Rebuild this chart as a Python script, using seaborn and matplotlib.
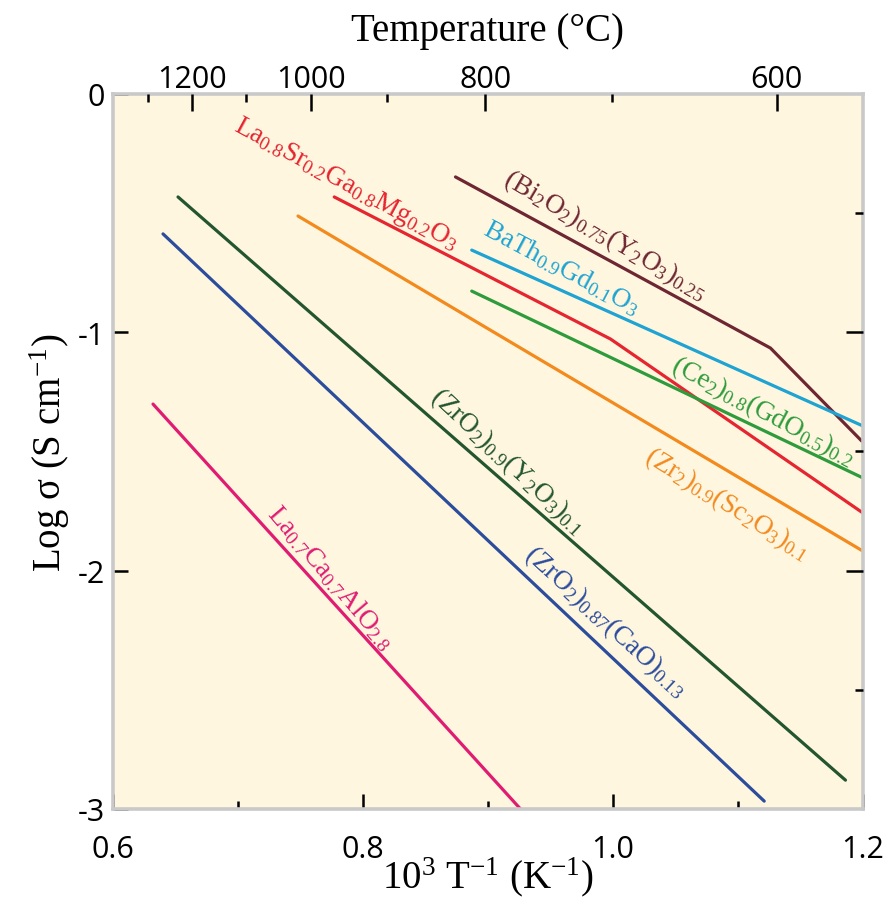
import numpy as np
import pandas as pd
import seaborn as sns
import matplotlib.pyplot as plt

sns.set_theme(style="ticks")
plt.rcParams['font.family'] = ['Liberation Serif', 'DejaVu Serif']
plt.rcParams['mathtext.fontset'] = 'custom'
plt.rcParams['mathtext.rm'] = 'Liberation Serif'
plt.rcParams['mathtext.default'] = 'regular'
plt.rcParams['text.color'] = 'black'
plt.rcParams['axes.labelcolor'] = 'black'
plt.rcParams['xtick.labelcolor'] = 'black'
plt.rcParams['ytick.labelcolor'] = 'black'

# Данные: 1000/T и log(sigma) для каждого электролита
bi_x = [0.874, 1.126, 1.199]
bi_y = [-0.348, -1.066, -1.456]
bath_x = [0.887, 1.200]
bath_y = [-0.655, -1.393]
lsgm_x = [0.777, 0.998, 1.200]
lsgm_y = [-0.432, -1.028, -1.758]
cgo_x = [0.887, 1.200]
cgo_y = [-0.827, -1.611]
scsz_x = [0.748, 1.200]
scsz_y = [-0.512, -1.918]
ysz_x = [0.652, 1.186]
ysz_y = [-0.432, -2.879]
csz_x = [0.640, 1.121]
csz_y = [-0.587, -2.967]
lca_x = [0.632, 0.926]
lca_y = [-1.301, -3.000]

names = ['Bi', 'BaTh', 'LSGM', 'CGO', 'ScSZ', 'YSZ', 'CSZ', 'LCA']
colors = ['#6E2632', '#1EA3D2', '#E52530', '#2E9B3C', '#F28A1E', '#23552F', '#2C4C9C', '#E01C72']
labels = [r'(Bi$_2$O$_2$)$_{0.75}$(Y$_2$O$_3$)$_{0.25}$',
          r'BaTh$_{0.9}$Gd$_{0.1}$O$_3$',
          r'La$_{0.8}$Sr$_{0.2}$Ga$_{0.8}$Mg$_{0.2}$O$_3$',
          r'(Ce$_2$)$_{0.8}$(GdO$_{0.5}$)$_{0.2}$',
          r'(Zr$_2$)$_{0.9}$(Sc$_2$O$_3$)$_{0.1}$',
          r'(ZrO$_2$)$_{0.9}$(Y$_2$O$_3$)$_{0.1}$',
          r'(ZrO$_2$)$_{0.87}$(CaO)$_{0.13}$',
          r'La$_{0.7}$Ca$_{0.7}$AlO$_{2.8}$']
# позиции и углы подписей
label_x = [0.994, 0.959, 0.786, 1.120, 1.091, 0.916, 0.994, 0.774]
label_y = [-0.592, -0.726, -0.378, -1.330, -1.720, -1.540, -2.211, -2.027]
label_rot = [-30.5, -28, -28.5, -28, -32, -43, -42.5, -49.5]

# Верхняя ось: температура (°C)
top_major_pos = [0.663, 0.758, 0.898, 1.131]
top_major_lab = ['1200', '1000', '800', '600']
top_minor_pos = [0.628, 0.706, 0.819, 0.999]

xs = [bi_x, bath_x, lsgm_x, cgo_x, scsz_x, ysz_x, csz_x, lca_x]
ys = [bi_y, bath_y, lsgm_y, cgo_y, scsz_y, ysz_y, csz_y, lca_y]
frames = []
for n, x, y in zip(names, xs, ys):
    frames.append(pd.DataFrame({'material': n, 'x': x, 'y': y}))
data = pd.concat(frames, ignore_index=True)

fig = plt.figure(figsize=(8.85, 9.03), dpi=100)
ax = fig.add_axes([0.1277, 0.103, 0.8474, 0.7918])
ax.set_facecolor('#FEF6DF')

sns.lineplot(data=data, x='x', y='y', hue='material', palette=dict(zip(names, colors)),
             units='material', estimator=None, sort=False, linewidth=2.3, legend=False, ax=ax)

for lab, lx, ly, rot, c in zip(labels, label_x, label_y, label_rot, colors):
    ax.text(lx, ly, lab, color=c, fontsize=19.5, rotation=rot, rotation_mode='anchor',
            ha='center', va='center')

ax.set_xlim(0.6, 1.2)
ax.set_ylim(-3, 0)
ax.set_xlabel(r'10$^3$ T$^{-1}$ (K$^{-1}$)', fontsize=28, labelpad=-7)
ax.set_ylabel(r'Log σ (S cm$^{-1}$)', fontsize=28, labelpad=4)

for s in ax.spines.values():
    s.set_color('#C9C9C9')
    s.set_linewidth(2.6)

tick_font = 'Open Sans'
ax.set_xticks([0.6, 0.8, 1.0, 1.2], labels=['0.6', '0.8', '1.0', '1.2'])
ax.set_xticks([0.7, 0.9, 1.1], minor=True)
ax.set_yticks([0, -1, -2, -3], labels=['0', '-1', '-2', '-3'])
ax.tick_params(axis='both', which='major', direction='in', length=11, width=1.8,
               color='black', labelsize=22, pad=6)
ax.tick_params(axis='x', which='major', pad=18)
ax.tick_params(axis='x', which='minor', direction='in', length=6, width=1.8, color='black')
ax.tick_params(axis='y', which='minor', left=False)
for t in ax.xaxis.get_major_ticks()[::3] + ax.yaxis.get_major_ticks()[::3]:
    t.tick1line.set_visible(False)
for t in ax.get_xticklabels() + ax.get_yticklabels():
    t.set_fontfamily(tick_font)

# Верхняя шкала температуры
ax_top = ax.twiny()
ax_top.set_xlim(0.6, 1.2)
ax_top.set_xticks(top_major_pos, labels=top_major_lab)
ax_top.set_xticks(top_minor_pos, minor=True)
ax_top.tick_params(axis='x', which='major', direction='in', length=12, width=1.8,
                   color='black', labelsize=22, pad=0)
ax_top.tick_params(axis='x', which='minor', direction='in', length=6, width=1.8, color='black')
ax_top.set_xlabel('Temperature (°C)', fontsize=28, labelpad=17)
for t in ax_top.get_xticklabels():
    t.set_fontfamily(tick_font)
for s in ax_top.spines.values():
    s.set_visible(False)

# Правая шкала: только засечки
ax_r = ax.twinx()
ax_r.set_ylim(-3, 0)
ax_r.set_yticks([-1, -2], labels=['', ''])
ax_r.set_yticks([-0.5, -1.5, -2.5], minor=True)
ax_r.tick_params(axis='y', which='major', direction='in', length=12, width=1.8, color='black')
ax_r.tick_params(axis='y', which='minor', direction='in', length=6, width=1.8, color='black')
for s in ax_r.spines.values():
    s.set_visible(False)

fig.savefig('out.png', dpi=100)
